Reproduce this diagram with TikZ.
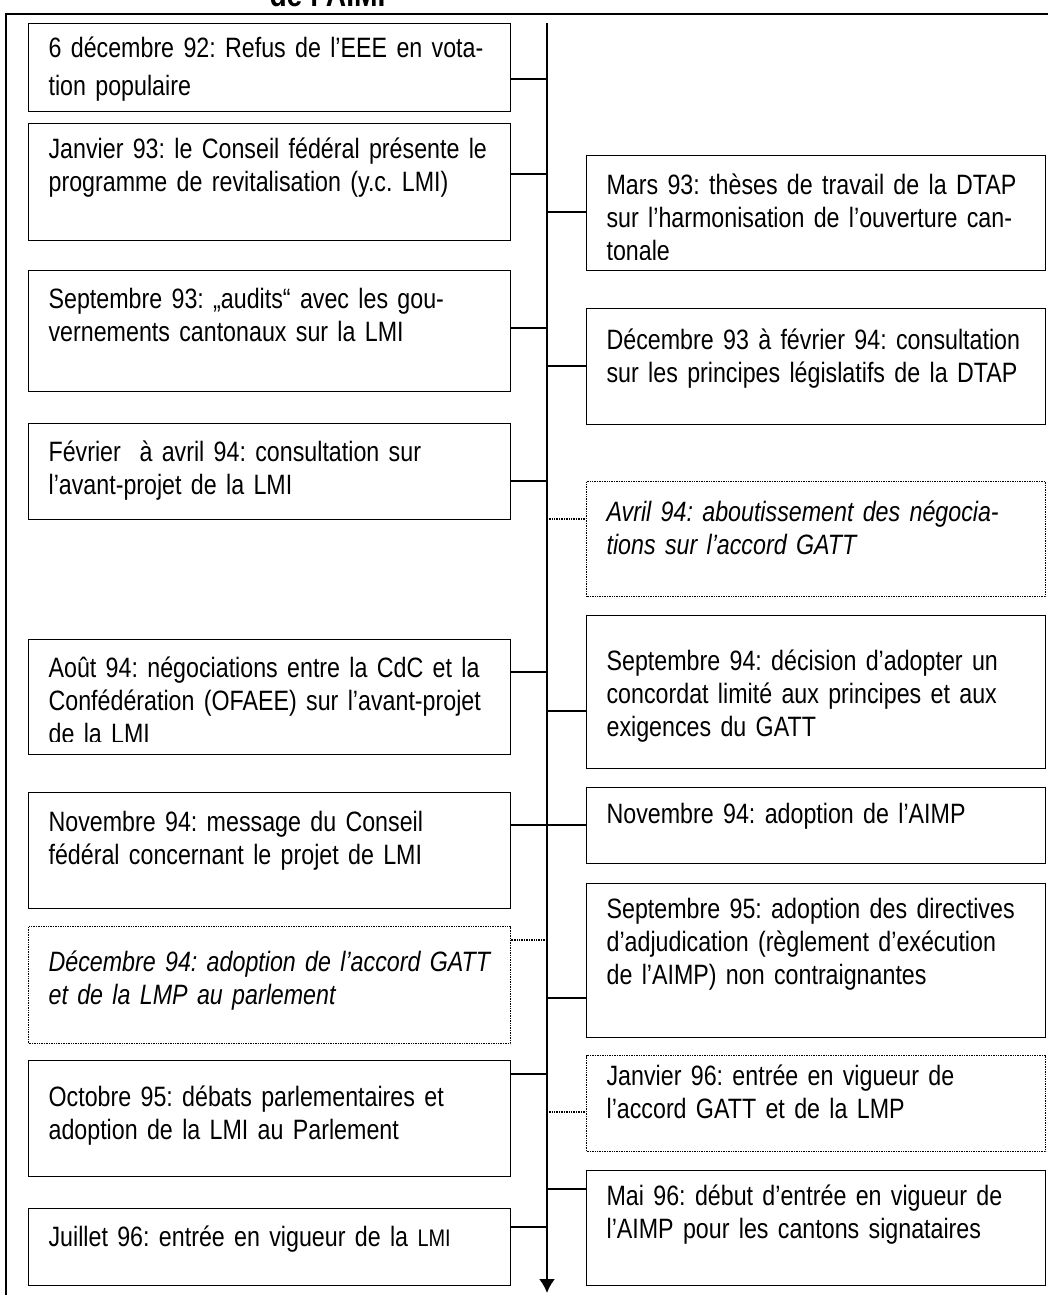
\documentclass[tikz,border=0pt]{standalone}
\usepackage{fontspec}
\setmainfont{Liberation Sans}[FakeStretch=0.83]
\usetikzlibrary{arrows.meta,positioning}

\newcommand\evfont{\fontsize{28pt}{33pt}\selectfont\frenchspacing}
\newcommand\jline[2]{\makebox[#1][s]{#2}}
\newcommand\evl[1]{\begin{tabular}[t]{@{}l@{}}#1\end{tabular}}

\tikzset{
  evbox/.style={draw, line width=1.2pt, anchor=north west, inner xsep=20pt,
    inner ysep=0pt, align=left, font=\evfont},
  leftbox/.style={evbox, text width=442pt},
  rightbox/.style={evbox, text width=419pt},
  boxdim/.style 2 args={text height=#2pt, text depth=#1pt-#2pt},
  dotline/.style={dash pattern=on 1pt off 0.7pt},
  link/.style={line width=1.3pt},
}

\begin{document}
\begin{tikzpicture}[x=1pt,y=-1pt]
  \useasboundingbox (0,0) rectangle (1047,1295);

  % title (cut off at the top)
  \node[font=\bfseries\fontsize{34pt}{36pt}\selectfont, anchor=base] (title) at (333,7) {de l’AIMP};

  % frame and time axis
  \draw[line width=2pt] (1060,14) -- (6,14) -- (6,1310);
  \coordinate (tltop) at (547,23);
  \coordinate (tlend) at (547,1293);
  \draw[line width=2pt, -{Latex[length=14pt,width=16pt]}] (tltop) -- (tlend);

  % left column
  \node[leftbox, boxdim={88}{34}] (b1) at (28,23)
    {\evl{6 décembre 92: Refus de l’EEE en vota-\\[5pt]tion populaire}};
  \node[leftbox, boxdim={117}{35}] (b2) at (28,123)
    {\evl{Janvier 93: le Conseil fédéral présente le\\programme de revitalisation (y.c. LMI)}};
  \node[leftbox, boxdim={121}{38}] (b3) at (28,270)
    {\evl{\jline{425pt}{Septembre 93: „audits“ avec les gou-}\\vernements cantonaux sur la LMI}};
  \node[leftbox, boxdim={96}{38}] (b4) at (28,423)
    {\evl{Février\ \ à avril 94: consultation sur\\l’avant-projet de la LMI}};
  \begin{scope}[even odd rule]
    \clip (0,0) rectangle (1047,1295) (30,741) rectangle (509,753);
    \node[leftbox, boxdim={115}{38}] (b5) at (28,639)
      {\evl{Août 94: négociations entre la CdC et la\\Confédération (OFAEE) sur l’avant-projet\\de la LMI}};
  \end{scope}
  \node[leftbox, boxdim={116}{39}] (b6) at (28,792)
    {\evl{Novembre 94: message du Conseil\\fédéral concernant le projet de LMI}};
  \node[leftbox, dotline, boxdim={117}{45}, font=\evfont\itshape] (b7) at (28,926)
    {\evl{Décembre 94: adoption de l’accord GATT\\et de la LMP au parlement}};
  \node[leftbox, boxdim={116}{46}] (b8) at (28,1060)
    {\evl{Octobre 95: débats parlementaires et\\adoption de la LMI au Parlement}};
  \node[leftbox, boxdim={77}{38}] (b9) at (28,1208)
    {Juillet 96: entrée en vigueur de la {\fontsize{24pt}{30pt}\selectfont LMI}};

  % right column
  \begin{scope}[even odd rule]
    \clip (0,0) rectangle (1047,1295) (588,259) rectangle (1043,269);
    \node[rightbox, boxdim={115}{39}] (r1) at (586,155)
      {\evl{Mars 93: thèses de travail de la DTAP\\sur l’harmonisation de l’ouverture can-\\tonale}};
  \end{scope}
  \node[rightbox, boxdim={116}{41}] (r2) at (586,308)
    {\evl{Décembre 93 à février 94: consultation\\sur les principes législatifs de la DTAP}};
  \node[rightbox, dotline, boxdim={115}{40}, font=\evfont\itshape] (r3) at (586,481)
    {\evl{Avril 94: aboutissement des négocia-\\tions sur l’accord GATT}};
  \node[rightbox, boxdim={153}{55}] (r4) at (586,615)
    {\evl{Septembre 94: décision d’adopter un\\concordat limité aux principes et aux\\exigences du GATT}};
  \node[rightbox, boxdim={76}{36}] (r5) at (586,787)
    {Novembre 94: adoption de l’AIMP};
  \node[rightbox, boxdim={154}{35}] (r6) at (586,883)
    {\evl{Septembre 95: adoption des directives\\d’adjudication (règlement d’exécution\\de l’AIMP) non contraignantes}};
  \node[rightbox, dotline, boxdim={96}{30}] (r7) at (586,1055)
    {\evl{\jline{412pt}{Janvier 96: entrée en vigueur de}\\l’accord GATT et de la LMP}};
  \node[rightbox, boxdim={115}{35}] (r8) at (586,1170)
    {\evl{Mai 96: début d’entrée en vigueur de\\l’AIMP pour les cantons signataires}};

  % links to the axis
  \foreach \b/\y in {b1/79, b2/174, b3/328, b4/481, b5/672, b6/825, b8/1074, b9/1227}
    {\coordinate (j) at (547,\y); \draw[link] (j) -- (j -| \b.east);}
  \foreach \b/\y in {r1/212, r2/366, r4/711, r5/825, r6/998, r8/1189}
    {\coordinate (j) at (547,\y); \draw[link] (j) -- (j -| \b.west);}
  \coordinate (j7) at (547,940);
  \draw[link, dotline] (j7) -- (j7 -| b7.east);
  \coordinate (k3) at (547,519);
  \draw[link, dotline] (k3) -- (k3 -| r3.west);
  \coordinate (k7) at (547,1112);
  \draw[link, dotline] (k7) -- (k7 -| r7.west);
\end{tikzpicture}
\end{document}
